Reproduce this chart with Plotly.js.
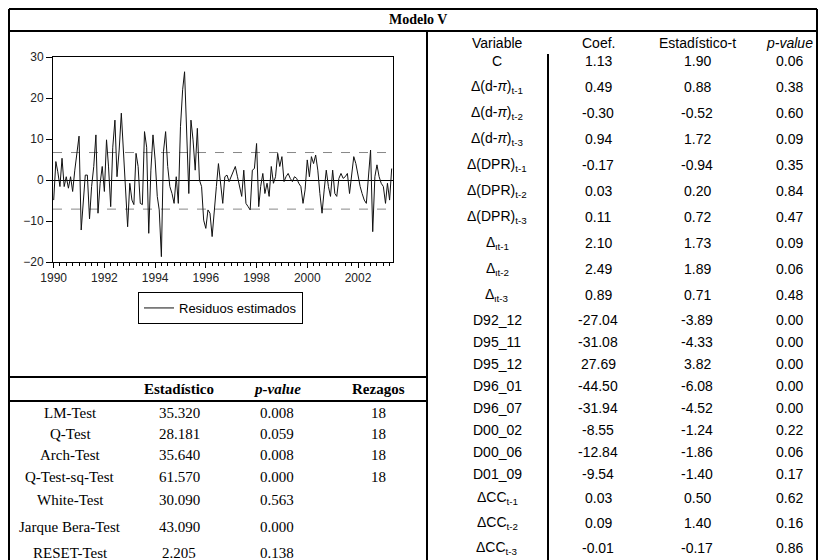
<!DOCTYPE html>
<html><head><meta charset="utf-8">
<script src="https://cdn.plot.ly/plotly-3.0.1.min.js"></script>
<style>html,body{margin:0;padding:0;background:#fff}</style>
</head><body><div id="chart" style="width:820px;height:560px"></div>
<script>
// ---------- DATA ----------
const startYear = 1990;
const residuals = [
  -4.9, 4.5, 2.0, -1.6, 5.3, -1.6, 0.8, -2.0, 0.8, -2.8, 2.4, 7.3,
  10.7, -12.2, -4.9, 1.2, 1.2, -9.5, -1.6, 3.3, 11.0, -8.1, -0.8, 3.3,
  -2.8, 9.8, 3.2, -6.5, 8.0, 14.6, 0.8, 7.3, 16.3, 8.0, -2.4, -11.4,
  -0.8, -4.9, -6.0, 6.5, 3.3, -5.7, -6.0, 11.8, 8.0, -13.0, 2.4, 11.0,
  4.9, -4.0, -7.3, -18.7, 6.9, 11.8, 3.3, -1.6, -3.3, -5.7, 0.8, -5.7,
  13.0, 22.0, 26.4, 12.2, -3.3, 14.6, 9.8, 2.4, 12.6, 0.0, -1.6, -9.8,
  -11.8, -7.3, -8.1, -13.8, -6.5, -1.6, 4.0, -1.6, -5.7, 0.8, 1.2, -0.4,
  0.8, 2.4, 3.3, 0.8, -1.6, -4.0, 2.4, -5.7, -6.5, -7.3, 2.4, 2.8,
  8.9, -6.5, -1.6, 1.6, -3.3, -0.8, -4.0, 3.3, -0.8, 0.8, 6.5, 3.3,
  5.7, -0.4, 0.8, 1.6, 0.4, -0.4, 0.8, 0.4, -0.8, -1.6, -5.7, -2.4,
  4.9, 0.8, 5.7, 4.0, 6.1, 2.4, -3.3, -8.1, -2.4, 2.4, -1.6, -4.0,
  2.4, -3.3, -4.0, 0.4, 1.6, 0.4, 0.8, 1.6, -3.3, 1.6, 5.7, 4.0,
  0.8, -1.6, -3.3, -4.9, -5.7, 0.8, 7.3, -12.6, 0.8, 3.7, 0.8, -0.8,
  -1.6, -5.7, -0.8, -4.9, 2.8
];
const bandUpper = 6.7;
const bandLower = -7.1;
const seriesName = "Residuos estimados";
const yTickValues = [-20, -10, 0, 10, 20, 30];

const tableTitle = "Modelo V";
const coefHeaders = ["Variable", "Coef.", "Estadístico-t", "<i>p-value</i>"];
const variables = [
  "C",
  "Δ(d-<i>π</i>)<sub>t-1</sub>", "Δ(d-<i>π</i>)<sub>t-2</sub>", "Δ(d-<i>π</i>)<sub>t-3</sub>",
  "Δ(DPR)<sub>t-1</sub>", "Δ(DPR)<sub>t-2</sub>", "Δ(DPR)<sub>t-3</sub>",
  "Δ<sub>ιt-1</sub>", "Δ<sub>ιt-2</sub>", "Δ<sub>ιt-3</sub>",
  "D92_12", "D95_11", "D95_12", "D96_01", "D96_07", "D00_02", "D00_06", "D01_09",
  "ΔCC<sub>t-1</sub>", "ΔCC<sub>t-2</sub>", "ΔCC<sub>t-3</sub>"
];
const coefs   = ["1.13","0.49","-0.30","0.94","-0.17","0.03","0.11","2.10","2.49","0.89",
                 "-27.04","-31.08","27.69","-44.50","-31.94","-8.55","-12.84","-9.54","0.03","0.09","-0.01"];
const tStats  = ["1.90","0.88","-0.52","1.72","-0.94","0.20","0.72","1.73","1.89","0.71",
                 "-3.89","-4.33","3.82","-6.08","-4.52","-1.24","-1.86","-1.40","0.50","1.40","-0.17"];
const pValues = ["0.06","0.38","0.60","0.09","0.35","0.84","0.47","0.09","0.06","0.48",
                 "0.00","0.00","0.00","0.00","0.00","0.22","0.06","0.17","0.62","0.16","0.86"];

const testHeaders = ["", "<b>Estadístico</b>", "<b><i>p-value</i></b>", "<b>Rezagos</b>"];
const testNames   = ["LM-Test","Q-Test","Arch-Test","Q-Test-sq-Test","White-Test","Jarque Bera-Test","RESET-Test"];
const testStats   = ["35.320","28.181","35.640","61.570","30.090","43.090","2.205"];
const testPValues = ["0.008","0.059","0.008","0.000","0.563","0.000","0.138"];
const testLags    = ["18","18","18","18","","",""];

// ---------- LAYOUT HELPERS (pixel -> paper) ----------
const W = 820, H = 560;
const px = x => x / W;
const py = y => 1 - y / H;

const dates = residuals.map((_, i) => {
  const y = startYear + Math.floor(i / 12);
  const m = (i % 12) + 1;
  return y + "-" + String(m).padStart(2, "0") + "-01";
});

const traces = [{
  type: "scatter", mode: "lines", x: dates, y: residuals, name: seriesName,
  line: {color: "#111", width: 1}, showlegend: true
}];

const sans = "Liberation Sans, Arial, sans-serif";
const serif = "Liberation Serif, Times New Roman, serif";

const annotations = [];
function txt(x, y, text, size, family, anchor) {
  if (!text) return;
  annotations.push({xref: "paper", yref: "paper", x: px(x), y: py(y), text: text,
    showarrow: false, xanchor: anchor || "center", yanchor: "middle",
    font: {family: family, size: size, color: "#000"}});
}

// title
txt(418, 20, "<b>" + tableTitle + "</b>", 14, serif);

// right table
const colX = [497, 598, 697, 789];
const rfs = 14;
coefHeaders.forEach((h, j) => txt(colX[j], 43, h, rfs, sans));
const rowY = [61, 87, 113, 139, 165, 191, 217, 243, 269, 295,
              320, 342, 364, 386, 408, 430, 452, 474, 498, 523, 548];
variables.forEach((v, i) => {
  txt(colX[0], rowY[i], v, rfs, sans);
  txt(colX[1], rowY[i], coefs[i], rfs, sans);
  txt(colX[2], rowY[i], tStats[i], rfs, sans);
  txt(colX[3], rowY[i], pValues[i], rfs, sans);
});

// bottom-left table
const tColX = [70, 179, 277, 378];
const lfs = 15;
testHeaders.forEach((h, j) => txt(tColX[j], 389, h, lfs, serif));
const tRowY = [413, 434, 455, 477, 500, 527, 553];
testNames.forEach((n, i) => {
  txt(tColX[0], tRowY[i], n, lfs, serif);
  txt(tColX[1], tRowY[i], testStats[i], lfs, serif);
  txt(tColX[2], tRowY[i], testPValues[i], lfs, serif);
  txt(tColX[3], tRowY[i], testLags[i], lfs, serif);
});

// table rules
const shapes = [];
function hline(x0, x1, y, w) {
  shapes.push({type: "line", xref: "paper", yref: "paper", x0: px(x0), x1: px(x1), y0: py(y), y1: py(y),
    line: {color: "#000", width: w}});
}
function vline(x, y0, y1, w) {
  shapes.push({type: "line", xref: "paper", yref: "paper", x0: px(x), x1: px(x), y0: py(y0), y1: py(y1),
    line: {color: "#000", width: w}});
}
hline(9, 817, 9, 2);
hline(9, 817, 31, 2);
vline(9, 9, 570, 2);
vline(817, 9, 570, 2);
vline(427, 31, 570, 2);
hline(9, 427, 377, 2);
hline(9, 427, 401, 2);
vline(548, 54, 570, 2);

// chart reference lines
shapes.push({type: "line", xref: "x domain", yref: "y", x0: 0, x1: 1, y0: bandUpper, y1: bandUpper,
  line: {color: "#888", width: 1, dash: "dash"}, layer: "below"});
shapes.push({type: "line", xref: "x domain", yref: "y", x0: 0, x1: 1, y0: bandLower, y1: bandLower,
  line: {color: "#888", width: 1, dash: "dash"}, layer: "below"});

const layout = {
  width: W, height: H, margin: {l: 0, r: 0, t: 0, b: 0},
  paper_bgcolor: "#fff", plot_bgcolor: "#fff", showlegend: true,
  xaxis: {
    domain: [px(53), px(393)], type: "date",
    range: ["1989-12-22", "2003-05-20"],
    tick0: "1990-01-01", dtick: "M24", tickformat: "%Y",
    ticks: "outside", ticklen: 5, tickcolor: "#000",
    minor: {dtick: "M3", ticks: "outside", ticklen: 3, tickcolor: "#000", showgrid: false},
    showline: true, linecolor: "#000", linewidth: 1, mirror: true,
    showgrid: false, zeroline: false,
    tickfont: {family: sans, size: 12, color: "#222"}
  },
  yaxis: {
    domain: [py(262), py(57)], range: [-20, 30],
    tickvals: yTickValues, ticks: "outside", ticklen: 6, tickcolor: "#000",
    showline: true, linecolor: "#000", linewidth: 1, mirror: true,
    showgrid: false, zeroline: true, zerolinecolor: "#000", zerolinewidth: 1,
    tickfont: {family: sans, size: 12, color: "#222"}
  },
  legend: {
    x: px(138), y: py(292), xanchor: "left", yanchor: "top",
    bordercolor: "#000", borderwidth: 1, bgcolor: "#fff", itemwidth: 30,
    font: {family: sans, size: 13, color: "#000"}
  },
  annotations: annotations,
  shapes: shapes
};

Plotly.newPlot("chart", traces, layout, {staticPlot: true, displayModeBar: false});
</script></body></html>
